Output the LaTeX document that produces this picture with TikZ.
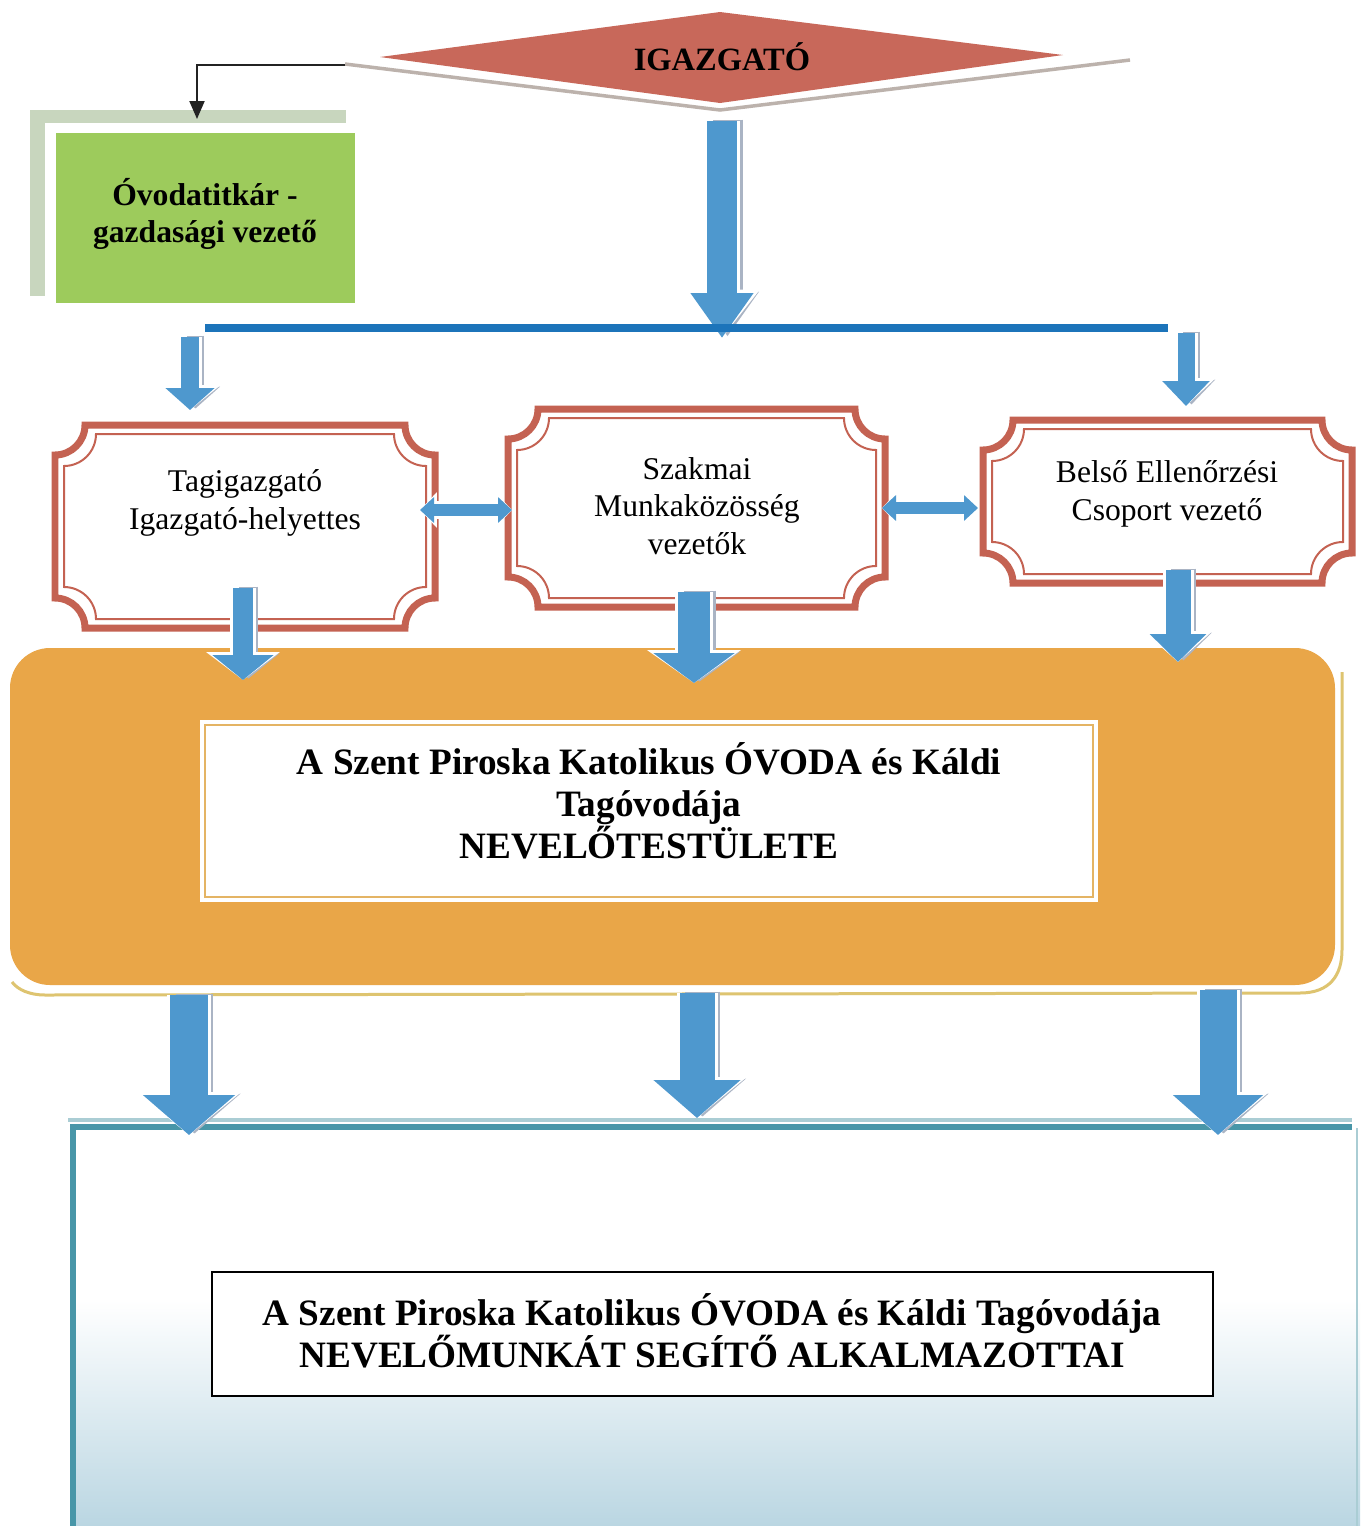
\documentclass[tikz,border=0pt]{standalone}
\usepackage{fontspec}
\setmainfont{Liberation Serif}
\usetikzlibrary{arrows.meta}
\definecolor{bossred}{RGB}{200,104,90}
\definecolor{bossshadow}{RGB}{188,178,172}
\definecolor{secgreen}{RGB}{157,203,92}
\definecolor{secshadow}{RGB}{200,214,190}
\definecolor{framered}{RGB}{196,98,82}
\definecolor{arrowblue}{RGB}{78,152,206}
\definecolor{arrowshadow}{RGB}{170,180,196}
\definecolor{lineblue}{RGB}{28,116,186}
\definecolor{boxorange}{RGB}{233,166,72}
\definecolor{orangeshadow}{RGB}{222,196,112}
\definecolor{innerline}{RGB}{228,180,100}
\definecolor{tealline}{RGB}{72,150,168}
\definecolor{tealpale}{RGB}{170,205,212}
\definecolor{paleblue}{RGB}{186,214,226}
\definecolor{connector}{RGB}{35,35,35}

\newcommand\concavepath[6]{%
 \draw[#1] ({(#2)+(#6)},{#3}) -- ({(#4)-(#6)},{#3})
  .. controls ({(#4)-(#6)},{(#3)+0.552*(#6)}) and ({(#4)-0.552*(#6)},{(#3)+(#6)}) .. ({#4},{(#3)+(#6)})
  -- ({#4},{(#5)-(#6)})
  .. controls ({(#4)-0.552*(#6)},{(#5)-(#6)}) and ({(#4)-(#6)},{(#5)-0.552*(#6)}) .. ({(#4)-(#6)},{#5})
  -- ({(#2)+(#6)},{#5})
  .. controls ({(#2)+(#6)},{(#5)-0.552*(#6)}) and ({(#2)+0.552*(#6)},{(#5)-(#6)}) .. ({#2},{(#5)-(#6)})
  -- ({#2},{(#3)+(#6)})
  .. controls ({(#2)+0.552*(#6)},{(#3)+(#6)}) and ({(#2)+(#6)},{(#3)+0.552*(#6)}) .. ({(#2)+(#6)},{#3}) -- cycle;}
\newcommand\roombox[5]{%
 \concavepath{draw=framered, fill=white, line width=0.14cm}{#1}{#2}{#3}{#4}{#5}
 \concavepath{draw=framered, line width=0.04cm}{(#1)+9}{(#2)+9}{(#3)-9}{(#4)-9}{(#5)+2}}

\begin{document}
\begin{tikzpicture}[x=0.02cm,y=-0.02cm,
  txt/.style={font=\fontsize{18}{21.5}\selectfont, align=center, inner sep=0pt},
  btxt/.style={font=\bfseries\fontsize{18}{21.5}\selectfont, align=center, inner sep=0pt},
  bigtxt/.style={font=\bfseries\fontsize{21.2}{24}\selectfont, align=center, inner sep=0pt},
  blk/.style n args={6}{draw=arrowblue, line width=#1, -{Triangle[width=#2,length=#3]},
     preaction={draw=arrowshadow, line width=#1, -{Triangle[width=#2,length=#3]}, transform canvas={xshift=0.11cm, yshift=0.03cm}},
     preaction={draw=white, line width=#4, -{Triangle[width=#5,length=#6]}}},
  dblk/.style={draw=arrowblue, line width=0.24cm,
     {Triangle[width=0.5cm,length=0.28cm]}-{Triangle[width=0.5cm,length=0.28cm]},
     preaction={draw=white, line width=0.36cm, {Triangle[width=0.7cm,length=0.34cm]}-{Triangle[width=0.7cm,length=0.34cm]}}}
]
\fill[white] (0,0) rectangle (1363,1526);
\useasboundingbox (0,0) rectangle (1363,1526);

% ---- bottom box
\fill[white] (72,1124) rectangle (1360,1526);
\shade[top color=white, bottom color=paleblue] (72,1300) rectangle (1360,1526);
\draw[tealpale, line width=0.08cm] (68,1120) -- (1352,1120);
\draw[tealline, line width=0.12cm] (70,1127) -- (1352,1127);
\draw[tealline, line width=0.12cm] (73,1124) -- (73,1526);
\draw[tealpale, line width=0.03cm] (1357,1128) -- (1357,1526);
\draw[black, line width=0.045cm, fill=white] (212,1272) rectangle (1213,1396);
\node[bigtxt] (assist) at (712,1331) {A Szent Piroska Katolikus ÓVODA és Káldi Tagóvodája\\NEVELŐMUNKÁT SEGÍTŐ ALKALMAZOTTAI};

% ---- orange box
\draw[orangeshadow, line width=0.06cm] (1342,672) -- (1342,950) .. controls (1342,975) and (1330,993) .. (1300,993) -- (45,995) .. controls (30,995) and (18,990) .. (12,982);
\fill[boxorange, rounded corners=0.8cm] (10,648) rectangle (1335,985);
\fill[white] (200,720) rectangle (1098,902);
\draw[innerline, line width=0.025cm] (205,725) rectangle (1093,897);
\node[bigtxt] (staff) at (649,801) {A Szent Piroska Katolikus ÓVODA és Káldi\\Tagóvodája\\NEVELŐTESTÜLETE};

% ---- diamond
\draw[bossshadow, line width=0.07cm] (345,64) -- (720,110) -- (1130,60);
\fill[bossred] (380,57) -- (720,12) -- (1063,55) -- (720,103) -- cycle;
\node[btxt, font=\bfseries\fontsize{18.5}{21}\selectfont] (boss) at (722,57) {IGAZGATÓ};

% ---- green box
\fill[secshadow] (30,110) rectangle (346,123);
\fill[secshadow] (30,110) rectangle (45,296);
\fill[secgreen] (56,133) rectangle (355,303);
\node[btxt] (secr) at (205,214) {Óvodatitkár -\\gazdasági vezető};
\coordinate (bossW) at (345,65);
\coordinate (secrN) at (197,119);
\draw[connector, line width=0.04cm, -{Triangle[width=0.3cm,length=0.36cm]}] (bossW) -| (secrN);

% ---- three boxes
\roombox{55}{425}{435}{628}{30}
\roombox{508}{409}{885}{607}{30}
\roombox{983}{420}{1352}{583}{30}
\node[txt] (deputy) at (245,503) {Tagigazgató\\Igazgató-helyettes};
\node[txt] (prof) at (697,506) {Szakmai\\Munkaközösség\\vezetők};
\node[txt] (ctrl) at (1167,494) {Belső Ellenőrzési\\Csoport vezető};

% ---- connector points
\coordinate (bossS) at (722,121);
\coordinate (hub) at (722,338);
\coordinate (busL) at (205,328);
\coordinate (busR) at (1168,328);
\coordinate (deputyIn0) at (190,337);
\coordinate (deputyIn) at (190,410);
\coordinate (ctrlIn0) at (1186,333);
\coordinate (ctrlIn) at (1186,406);
\coordinate (deputyOut) at (243,588);
\coordinate (profOut) at (694,592);
\coordinate (ctrlOut) at (1178,570);
\coordinate (staffIn1) at (243,680);
\coordinate (staffIn2) at (694,683);
\coordinate (staffIn3) at (1178,662);
\coordinate (deputyE) at (420,510);
\coordinate (profW) at (512,510);
\coordinate (profE) at (882,508);
\coordinate (ctrlW) at (978,508);
\coordinate (staffOut1) at (189,995);
\coordinate (staffOut2) at (697,993);
\coordinate (staffOut3) at (1218,990);
\coordinate (assistIn1) at (189,1135);
\coordinate (assistIn2) at (697,1118);
\coordinate (assistIn3) at (1218,1135);

% ---- arrows
\draw[blk={0.6cm}{1.2cm}{0.9cm}{0.72cm}{1.45cm}{0.97cm}] (bossS) -- (hub);
\draw[lineblue, line width=0.16cm] (busL) -- (busR);
\draw[blk={0.36cm}{0.96cm}{0.44cm}{0.48cm}{1.2cm}{0.5cm}] (deputyIn0) -- (deputyIn);
\draw[blk={0.34cm}{0.92cm}{0.5cm}{0.46cm}{1.16cm}{0.56cm}] (ctrlIn0) -- (ctrlIn);

\draw[dblk] (deputyE) -- (profW);
\draw[dblk] (profE) -- (ctrlW);

\draw[blk={0.4cm}{1.2cm}{0.5cm}{0.52cm}{1.45cm}{0.56cm}] (deputyOut) -- (staffIn1);
\draw[blk={0.64cm}{1.6cm}{0.6cm}{0.76cm}{1.85cm}{0.66cm}] (profOut) -- (staffIn2);
\draw[blk={0.5cm}{1.1cm}{0.56cm}{0.62cm}{1.35cm}{0.62cm}] (ctrlOut) -- (staffIn3);

\draw[blk={0.76cm}{1.8cm}{0.8cm}{0.88cm}{2.05cm}{0.86cm}] (staffOut1) -- (assistIn1);
\draw[blk={0.7cm}{1.7cm}{0.76cm}{0.82cm}{1.95cm}{0.82cm}] (staffOut2) -- (assistIn2);
\draw[blk={0.74cm}{1.76cm}{0.8cm}{0.86cm}{2.0cm}{0.86cm}] (staffOut3) -- (assistIn3);
\end{tikzpicture}
\end{document}
